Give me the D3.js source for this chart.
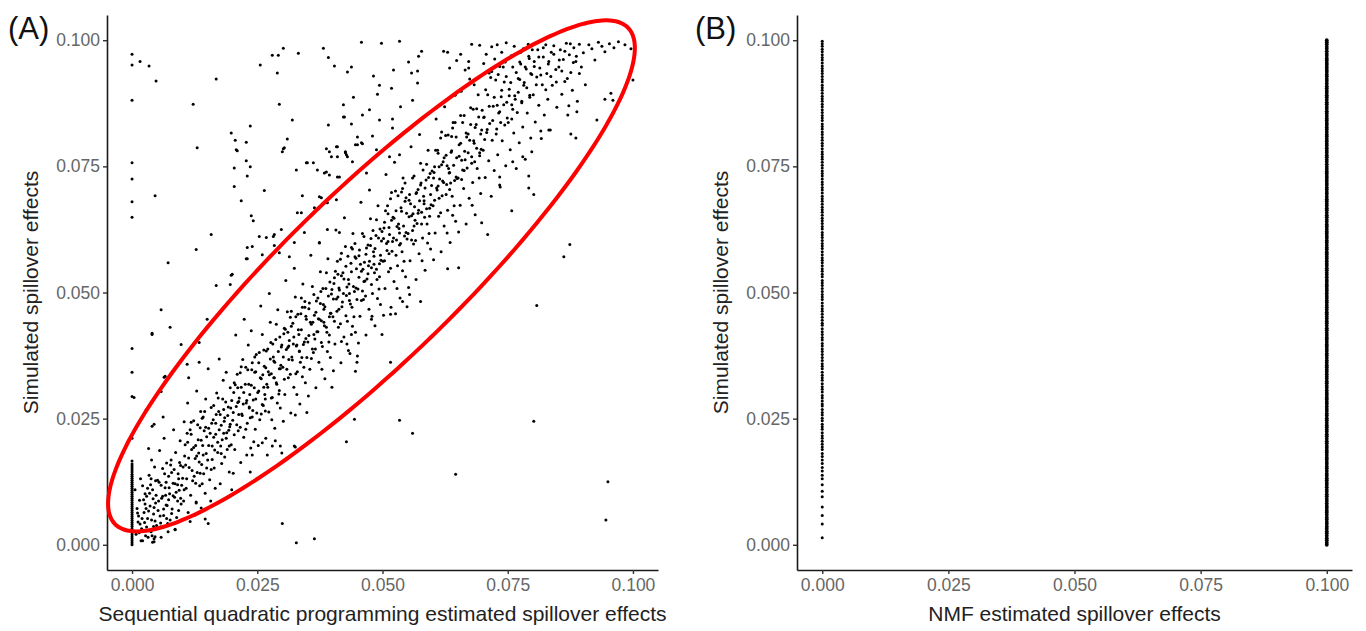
<!DOCTYPE html>
<html>
<head>
<meta charset="utf-8">
<script src="https://cdn.jsdelivr.net/npm/d3@7"></script>
<style>
    body { margin: 0; background: #fff; }
    svg { display: block; font-family: "Liberation Sans", Arial, Helvetica, sans-serif; }
</style>
</head>
<body>
<div id="chart"></div>
<script>
// Panel A: [SQP estimate, simulated] pairs in the main band
const sqpBand = [
    [.0008,.0021],[.0012,.0045],[.0015,.0088],[.0019,.0032],[.0021,.0117],[.0024,.0064],[.0027,.0018],[.0029,.0096],[.0031,.0052],[.0034,.0138],[.0036,.0077],[.0038,.0026],[.0041,.0109],[.0043,.0061],[.0045,.0154],[.0047,.0083],[.0049,.0038],[.0010,.0072],[.0017,.0131],[.0022,.0029],[.0026,.0101],[.0032,.0015],[.0037,.0119],[.0042,.0091],[.0046,.0047],[.0013,.0057],[.0028,.0072],[.0039,.0168],[.0006,.0109],[.0033,.0191],[.0044,.0012],[.0018,.0008],[.0025,.0044],[.0021,.0008],[.0041,.0005],[.0046,.0016],
    [.0052,.0068],[.0054,.0124],[.0057,.0035],[.0059,.0092],[.0061,.0151],[.0063,.0058],[.0066,.0113],[.0068,.0079],[.0071,.0042],[.0073,.0136],[.0075,.0101],[.0078,.0168],[.0080,.0071],[.0082,.0122],[.0085,.0094],[.0087,.0183],[.0089,.0054],[.0092,.0141],[.0094,.0108],[.0096,.0206],[.0098,.0081],[.0055,.0187],[.0064,.0211],[.0069,.0162],[.0076,.0049],[.0083,.0228],[.0091,.0119],[.0097,.0157],[.0058,.0015],[.0072,.0026],[.0086,.0031],[.0062,.0253],[.0079,.0143],[.0093,.0068],[.0067,.0098],
    [.0101,.0132],[.0103,.0087],[.0105,.0176],[.0108,.0112],[.0110,.0221],[.0112,.0064],[.0114,.0153],[.0117,.0098],[.0119,.0189],[.0121,.0127],[.0123,.0246],[.0126,.0171],[.0128,.0083],[.0130,.0143],[.0132,.0208],[.0135,.0117],[.0137,.0264],[.0139,.0159],[.0141,.0197],[.0144,.0226],[.0146,.0102],[.0148,.0181],[.0104,.0244],[.0111,.0281],[.0116,.0046],[.0124,.0136],[.0129,.0305],[.0133,.0182],[.0138,.0073],[.0143,.0141],[.0147,.0289],[.0107,.0158],[.0118,.0219],[.0127,.0197],[.0136,.0232],[.0142,.0253],[.0149,.0214],[.0113,.0331],[.0125,.0059],[.0140,.0121],
    [.0151,.0168],[.0153,.0231],[.0155,.0129],[.0158,.0272],[.0160,.0196],[.0162,.0248],[.0164,.0152],[.0167,.0219],[.0169,.0301],[.0171,.0183],[.0173,.0264],[.0176,.0121],[.0178,.0237],[.0180,.0208],[.0182,.0326],[.0185,.0174],[.0187,.0283],[.0189,.0222],[.0191,.0256],[.0194,.0144],[.0196,.0311],[.0198,.0198],[.0152,.0349],[.0157,.0087],[.0163,.0213],[.0168,.0258],[.0174,.0368],[.0179,.0161],[.0184,.0245],[.0188,.0342],[.0193,.0227],[.0197,.0271],[.0159,.0241],[.0166,.0112],[.0172,.0291],[.0177,.0196],[.0183,.0268],[.0190,.0189],[.0195,.0234],[.0199,.0109],
    [.0201,.0247],[.0203,.0302],[.0205,.0189],[.0208,.0274],[.0210,.0338],[.0212,.0226],[.0214,.0291],[.0217,.0163],[.0219,.0259],[.0221,.0367],[.0223,.0213],[.0226,.0318],[.0228,.0281],[.0230,.0241],[.0232,.0396],[.0235,.0298],[.0237,.0192],[.0239,.0347],[.0241,.0266],[.0244,.0311],[.0246,.0229],[.0248,.0377],[.0202,.0142],[.0207,.0416],[.0213,.0258],[.0218,.0312],[.0224,.0447],[.0229,.0178],[.0234,.0271],[.0238,.0424],[.0243,.0204],[.0247,.0289],[.0204,.0321],[.0211,.0282],[.0216,.0233],[.0222,.0279],[.0227,.0352],[.0233,.0318],[.0240,.0253],[.0245,.0342],[.0249,.0131],
    [.0251,.0302],[.0253,.0361],[.0255,.0248],[.0258,.0329],[.0260,.0417],[.0262,.0276],[.0264,.0354],[.0267,.0211],[.0269,.0318],[.0271,.0388],[.0273,.0263],[.0276,.0441],[.0278,.0339],[.0280,.0292],[.0282,.0372],[.0285,.0231],[.0287,.0407],[.0289,.0318],[.0291,.0466],[.0294,.0349],[.0296,.0271],[.0298,.0392],[.0252,.0197],[.0257,.0473],[.0263,.0312],[.0268,.0384],[.0274,.0498],[.0279,.0248],[.0284,.0331],[.0288,.0437],[.0293,.0299],[.0297,.0356],[.0254,.0381],[.0261,.0337],[.0266,.0289],[.0272,.0343],[.0277,.0401],[.0283,.0364],[.0290,.0281],[.0295,.0412],[.0299,.0182],[.0270,.0178],[.0286,.0206],
    [.0301,.0352],[.0303,.0418],[.0305,.0298],[.0308,.0387],[.0310,.0462],[.0312,.0331],[.0314,.0405],[.0317,.0261],[.0319,.0372],[.0321,.0439],[.0323,.0312],[.0326,.0491],[.0328,.0394],[.0330,.0343],[.0332,.0426],[.0335,.0279],[.0337,.0458],[.0339,.0371],[.0341,.0517],[.0344,.0402],[.0346,.0321],[.0348,.0447],[.0302,.0245],[.0307,.0524],[.0313,.0367],[.0318,.0433],[.0324,.0548],[.0329,.0298],[.0334,.0384],[.0338,.0489],[.0343,.0352],[.0347,.0409],[.0304,.0429],[.0311,.0391],[.0316,.0338],[.0322,.0398],[.0327,.0452],[.0333,.0417],[.0340,.0333],[.0345,.0471],[.0349,.0262],
    [.0351,.0402],[.0353,.0468],[.0355,.0348],[.0358,.0437],[.0360,.0512],[.0362,.0381],[.0364,.0455],[.0367,.0311],[.0369,.0422],[.0371,.0489],[.0373,.0362],[.0376,.0541],[.0378,.0444],[.0380,.0393],[.0382,.0476],[.0385,.0329],[.0387,.0508],[.0389,.0421],[.0391,.0567],[.0394,.0452],[.0396,.0371],[.0398,.0497],[.0352,.0295],[.0357,.0574],[.0363,.0417],[.0368,.0483],[.0374,.0598],[.0379,.0348],[.0384,.0434],[.0388,.0539],[.0393,.0402],[.0397,.0459],[.0354,.0479],[.0361,.0441],[.0366,.0388],[.0372,.0448],[.0377,.0502],[.0383,.0467],[.0390,.0383],[.0395,.0521],[.0399,.0312],
    [.0401,.0452],[.0403,.0518],[.0405,.0398],[.0408,.0487],[.0410,.0562],[.0412,.0431],[.0414,.0505],[.0417,.0361],[.0419,.0472],[.0421,.0539],[.0423,.0412],[.0426,.0591],[.0428,.0494],[.0430,.0443],[.0432,.0526],[.0435,.0379],[.0437,.0558],[.0439,.0471],[.0441,.0617],[.0444,.0502],[.0446,.0421],[.0448,.0547],[.0402,.0345],[.0407,.0624],[.0413,.0467],[.0418,.0533],[.0424,.0648],[.0429,.0398],[.0434,.0484],[.0438,.0589],[.0443,.0452],[.0447,.0509],[.0404,.0529],[.0411,.0491],[.0416,.0438],[.0422,.0498],[.0427,.0552],[.0433,.0517],[.0440,.0433],[.0445,.0571],[.0449,.0362],
    [.0451,.0507],[.0453,.0573],[.0455,.0453],[.0458,.0542],[.0460,.0617],[.0462,.0486],[.0464,.0560],[.0467,.0416],[.0469,.0527],[.0471,.0594],[.0473,.0467],[.0476,.0646],[.0478,.0549],[.0480,.0498],[.0482,.0581],[.0485,.0434],[.0487,.0613],[.0489,.0526],[.0491,.0672],[.0494,.0557],[.0496,.0476],[.0498,.0602],[.0452,.0400],[.0457,.0679],[.0463,.0522],[.0468,.0588],[.0474,.0703],[.0479,.0453],[.0484,.0539],[.0488,.0644],[.0493,.0507],[.0497,.0564],[.0454,.0584],[.0461,.0546],[.0466,.0493],[.0472,.0553],[.0477,.0607],[.0483,.0572],[.0490,.0488],[.0495,.0626],[.0499,.0417],
    [.0501,.0562],[.0503,.0628],[.0505,.0508],[.0508,.0597],[.0510,.0672],[.0512,.0541],[.0514,.0615],[.0517,.0471],[.0519,.0582],[.0521,.0649],[.0523,.0522],[.0526,.0701],[.0528,.0604],[.0530,.0553],[.0532,.0636],[.0535,.0489],[.0537,.0668],[.0539,.0581],[.0541,.0727],[.0544,.0612],[.0546,.0531],[.0548,.0657],[.0502,.0455],[.0507,.0734],[.0513,.0577],[.0518,.0643],[.0524,.0758],[.0529,.0508],[.0534,.0594],[.0538,.0699],[.0543,.0562],[.0547,.0619],[.0504,.0639],[.0511,.0601],[.0516,.0548],[.0522,.0608],[.0527,.0662],[.0533,.0627],[.0540,.0543],[.0545,.0681],[.0549,.0472],
    [.0551,.0617],[.0553,.0683],[.0555,.0563],[.0558,.0652],[.0560,.0727],[.0562,.0596],[.0564,.0670],[.0567,.0526],[.0569,.0637],[.0571,.0704],[.0573,.0577],[.0576,.0756],[.0578,.0659],[.0580,.0608],[.0582,.0691],[.0585,.0544],[.0587,.0723],[.0589,.0636],[.0591,.0782],[.0594,.0667],[.0596,.0586],[.0598,.0712],[.0552,.0510],[.0557,.0789],[.0563,.0632],[.0568,.0698],[.0574,.0813],[.0579,.0563],[.0584,.0649],[.0588,.0754],[.0593,.0617],[.0597,.0674],[.0554,.0694],[.0561,.0656],[.0566,.0603],[.0572,.0663],[.0577,.0717],[.0583,.0682],[.0590,.0598],[.0595,.0736],
    [.0601,.0672],[.0603,.0738],[.0605,.0618],[.0608,.0707],[.0610,.0782],[.0612,.0651],[.0614,.0725],[.0617,.0581],[.0619,.0692],[.0621,.0759],[.0623,.0632],[.0626,.0811],[.0628,.0714],[.0630,.0663],[.0632,.0746],[.0635,.0599],[.0637,.0778],[.0639,.0691],[.0641,.0837],[.0644,.0722],[.0646,.0641],[.0648,.0767],[.0602,.0565],[.0607,.0844],[.0613,.0687],[.0618,.0753],[.0624,.0868],[.0629,.0618],[.0634,.0704],[.0638,.0809],[.0643,.0672],[.0647,.0729],[.0604,.0749],[.0611,.0711],[.0616,.0658],[.0622,.0718],[.0627,.0772],[.0633,.0737],[.0640,.0653],[.0645,.0891],
    [.0651,.0727],[.0653,.0793],[.0655,.0673],[.0658,.0762],[.0660,.0837],[.0662,.0706],[.0664,.0780],[.0667,.0636],[.0669,.0747],[.0671,.0814],[.0673,.0687],[.0676,.0866],[.0678,.0769],[.0680,.0718],[.0682,.0801],[.0685,.0654],[.0687,.0833],[.0689,.0746],[.0691,.0892],[.0694,.0777],[.0696,.0696],[.0698,.0822],[.0652,.0620],[.0657,.0899],[.0663,.0742],[.0668,.0808],[.0674,.0923],[.0679,.0673],[.0684,.0759],[.0688,.0864],[.0693,.0727],[.0697,.0784],[.0656,.0851],[.0665,.0941],[.0672,.0958],[.0683,.0912],
    [.0701,.0782],[.0703,.0848],[.0705,.0728],[.0708,.0817],[.0710,.0892],[.0712,.0761],[.0714,.0835],[.0717,.0691],[.0719,.0802],[.0721,.0869],[.0723,.0742],[.0726,.0921],[.0728,.0824],[.0730,.0773],[.0732,.0856],[.0735,.0709],[.0737,.0888],[.0739,.0801],[.0741,.0947],[.0744,.0832],[.0746,.0751],[.0748,.0877],[.0702,.0954],[.0707,.0972],[.0713,.0935],[.0718,.0987],[.0724,.0963],[.0729,.0991],[.0734,.0948],[.0738,.0976],[.0743,.0917],[.0747,.0995],
    [.0751,.0837],[.0753,.0903],[.0755,.0783],[.0758,.0872],[.0760,.0947],[.0762,.0816],[.0764,.0890],[.0767,.0746],[.0769,.0857],[.0771,.0924],[.0773,.0797],[.0776,.0976],[.0778,.0879],[.0780,.0828],[.0782,.0911],[.0785,.0764],[.0787,.0943],[.0789,.0856],[.0791,.0992],[.0794,.0887],[.0796,.0806],[.0798,.0932],[.0757,.0969],[.0763,.0988],[.0774,.0957],[.0784,.0982],[.0793,.0964],
    [.0801,.0892],[.0803,.0958],[.0805,.0838],[.0808,.0927],[.0810,.0981],[.0812,.0871],[.0814,.0945],[.0817,.0805],[.0819,.0912],[.0821,.0967],[.0823,.0852],[.0826,.0991],[.0828,.0934],[.0830,.0883],[.0832,.0958],[.0835,.0822],[.0837,.0976],[.0839,.0911],[.0842,.0989],[.0846,.0942],[.0848,.0867],
    [.0852,.0947],[.0855,.0981],[.0858,.0893],[.0861,.0962],[.0864,.0918],[.0867,.0994],[.0870,.0852],[.0873,.0971],[.0876,.0936],[.0879,.0901],[.0882,.0985],[.0886,.0958],[.0889,.0879],[.0893,.0992],[.0897,.0947],[.0901,.0975],[.0905,.0912],[.0912,.0991],[.0918,.0983],[.0924,.0961],[.0931,.0996],[.0938,.0988],[.0944,.0977],[.0953,.0993],[.0962,.0985],[.0971,.0997],[.0984,.0991],[.1000,.0921],[.0996,.0983]
];

// Panel A: extra points in the densest core of the band
const sqpBandCore = [
    [.0011,.0063],[.0016,.0041],[.0023,.0089],[.0029,.0035],[.0035,.0102],[.0039,.0049],[.0044,.0074],[.0051,.0128],[.0056,.0057],[.0061,.0096],[.0065,.0141],[.0070,.0078],[.0074,.0113],[.0079,.0062],[.0084,.0149],[.0088,.0104],[.0093,.0131],[.0097,.0092],[.0014,.0024],[.0020,.0052],[.0026,.0081],[.0033,.0067],[.0038,.0131],[.0043,.0036],[.0048,.0098],[.0053,.0087],[.0058,.0118],[.0063,.0071],[.0068,.0124],[.0073,.0089],[.0077,.0158],[.0082,.0097],[.0086,.0121],[.0091,.0087],[.0095,.0163],[.0099,.0118],[.0031,.0112],[.0047,.0127],[.0057,.0043],[.0069,.0052],
    [.0102,.0154],[.0106,.0198],[.0109,.0131],[.0113,.0172],[.0116,.0228],[.0120,.0147],[.0123,.0193],[.0127,.0122],[.0131,.0238],[.0134,.0164],[.0138,.0207],[.0142,.0178],[.0145,.0264],[.0149,.0152],[.0153,.0197],[.0156,.0221],[.0160,.0169],[.0163,.0276],[.0167,.0241],[.0171,.0203],[.0174,.0228],[.0178,.0181],[.0181,.0289],[.0185,.0252],[.0188,.0211],[.0192,.0273],[.0196,.0239],[.0199,.0286],[.0104,.0109],[.0118,.0243],[.0129,.0176],[.0136,.0142],[.0147,.0233],[.0158,.0149],[.0165,.0188],[.0176,.0258],[.0183,.0221],[.0194,.0196],[.0111,.0203],[.0140,.0251],
    [.0202,.0262],[.0206,.0317],[.0209,.0238],[.0213,.0284],[.0216,.0341],[.0220,.0256],[.0223,.0302],[.0227,.0229],[.0231,.0347],[.0234,.0273],[.0238,.0316],[.0242,.0287],[.0245,.0372],[.0249,.0261],[.0253,.0305],[.0256,.0331],[.0260,.0278],[.0263,.0386],[.0267,.0351],[.0271,.0312],[.0274,.0337],[.0278,.0291],[.0281,.0398],[.0285,.0362],[.0288,.0321],[.0292,.0383],[.0296,.0349],[.0299,.0396],[.0204,.0218],[.0218,.0353],[.0229,.0286],[.0236,.0252],[.0247,.0343],[.0258,.0259],[.0265,.0298],[.0276,.0368],[.0283,.0331],[.0294,.0306],[.0211,.0311],[.0240,.0361],
    [.0302,.0372],[.0306,.0427],[.0309,.0348],[.0313,.0394],[.0316,.0451],[.0320,.0366],[.0323,.0412],[.0327,.0339],[.0331,.0457],[.0334,.0383],[.0338,.0426],[.0342,.0397],[.0345,.0482],[.0349,.0371],[.0353,.0415],[.0356,.0441],[.0360,.0388],[.0363,.0496],[.0367,.0461],[.0371,.0422],[.0374,.0447],[.0378,.0401],[.0381,.0508],[.0385,.0472],[.0388,.0431],[.0392,.0493],[.0396,.0459],[.0399,.0506],[.0304,.0328],[.0318,.0463],[.0329,.0396],[.0336,.0362],[.0347,.0453],[.0358,.0369],[.0365,.0408],[.0376,.0478],[.0383,.0441],[.0394,.0416],[.0311,.0421],[.0340,.0471],
    [.0402,.0487],[.0406,.0542],[.0409,.0463],[.0413,.0509],[.0416,.0566],[.0420,.0481],[.0423,.0527],[.0427,.0454],[.0431,.0572],[.0434,.0498],[.0438,.0541],[.0442,.0512],[.0445,.0597],[.0449,.0486],[.0453,.0530],[.0456,.0556],[.0460,.0503],[.0463,.0611],[.0467,.0576],[.0471,.0537],[.0474,.0562],[.0478,.0516],[.0481,.0623],[.0485,.0587],[.0488,.0546],[.0492,.0608],[.0496,.0574],[.0499,.0621],[.0404,.0443],[.0418,.0578],[.0429,.0511],[.0436,.0477],[.0447,.0568],[.0458,.0484],[.0465,.0523],[.0476,.0593],[.0483,.0556],[.0494,.0531],[.0411,.0536],[.0440,.0586],
    [.0502,.0607],[.0506,.0662],[.0509,.0583],[.0513,.0629],[.0516,.0686],[.0520,.0601],[.0523,.0647],[.0527,.0574],[.0531,.0692],[.0534,.0618],[.0538,.0661],[.0542,.0632],[.0545,.0717],[.0549,.0606],[.0553,.0650],[.0556,.0676],[.0560,.0623],[.0563,.0731],[.0567,.0696],[.0571,.0657],[.0574,.0682],[.0578,.0636],[.0581,.0743],[.0585,.0707],[.0588,.0666],[.0592,.0728],[.0596,.0694],[.0599,.0741],[.0504,.0563],[.0518,.0698],[.0529,.0631],[.0536,.0597],[.0547,.0688],[.0558,.0604],[.0565,.0643],[.0576,.0713],[.0583,.0676],[.0594,.0651],[.0511,.0656],[.0540,.0706],
    [.0602,.0727],[.0606,.0782],[.0609,.0703],[.0613,.0749],[.0616,.0806],[.0620,.0721],[.0623,.0767],[.0627,.0694],[.0631,.0812],[.0634,.0738],[.0638,.0781],[.0642,.0752],[.0645,.0837],[.0649,.0726],[.0653,.0770],[.0656,.0796],[.0660,.0743],[.0663,.0851],[.0667,.0816],[.0671,.0777],[.0674,.0802],[.0678,.0756],[.0681,.0863],[.0685,.0827],[.0688,.0786],[.0692,.0848],[.0696,.0814],[.0699,.0861],[.0604,.0683],[.0618,.0818],[.0629,.0751],[.0636,.0717],[.0647,.0808],[.0658,.0724],[.0665,.0763],[.0676,.0833],[.0683,.0796],[.0694,.0771],[.0611,.0776],[.0640,.0826],
    [.0702,.0847],[.0706,.0902],[.0709,.0823],[.0713,.0869],[.0716,.0926],[.0720,.0841],[.0723,.0887],[.0727,.0814],[.0731,.0932],[.0734,.0858],[.0738,.0901],[.0742,.0872],[.0745,.0957],[.0749,.0846],[.0753,.0890],[.0756,.0916],[.0760,.0863],[.0763,.0971],[.0767,.0936],[.0771,.0897],[.0774,.0922],[.0778,.0876],[.0781,.0983],[.0785,.0947],[.0788,.0906],[.0792,.0968],[.0796,.0934],[.0799,.0981],[.0704,.0803],[.0718,.0938],[.0729,.0871],[.0736,.0837],[.0747,.0928],[.0758,.0844],[.0765,.0883],[.0776,.0953],[.0783,.0916],[.0794,.0891],
    [.0803,.0948],[.0807,.0912],[.0812,.0967],[.0816,.0931],[.0821,.0985],[.0826,.0902],[.0831,.0953],[.0836,.0928],[.0842,.0972],[.0847,.0917],[.0853,.0961],[.0858,.0939],[.0864,.0978],[.0869,.0924],[.0875,.0993],[.0881,.0956],[.0887,.0968],[.0893,.0934]
];

// Panel A: scattered points away from the band
const sqpOutliers = [
    [.0016,.0958],[.0034,.0949],[.0048,.0919],[.0122,.0873],[.0130,.0787],[.0046,.0692],[.0072,.0559],[.0128,.0585],[.0158,.0615],[.0168,.0923],
    [.0198,.0816],[.0206,.0802],[.0228,.0798],[.0210,.0781],[.0236,.0830],[.0228,.0761],[.0236,.0749],[.0204,.0747],[.0230,.0731],[.0204,.0710],
    [.0264,.0702],[.0218,.0682],[.0238,.0652],[.0242,.0642],[.0256,.0951],[.0280,.0970],[.0292,.0970],[.0302,.0984],[.0290,.0935],[.0294,.0873],
    [.0332,.0974],[.0382,.0984],[.0392,.0966],[.0404,.0949],[.0430,.0937],[.0422,.0872],[.0422,.0848],[.0320,.0842],[.0392,.0832],[.0310,.0804],
    [.0302,.0785],[.0388,.0785],[.0408,.0789],[.0398,.0769],[.0410,.0769],[.0328,.0743],[.0348,.0757],[.0362,.0757],[.0370,.0743],[.0384,.0737],
    [.0394,.0733],[.0410,.0729],[.0340,.0692],[.0364,.0668],[.0378,.0688],[.0390,.0678],[.0408,.0684],[.0330,.0658],[.0298,.0625],[.0284,.0615],
    [.0268,.0609],[.0254,.0611],[.0240,.0591],[.0230,.0589],[.0230,.0567],[.0198,.0534],[.0196,.0516],[.0168,.0514],[.0260,.0575],[.0294,.0579],
    [.0314,.0571],[.0324,.0599],[.0344,.0619],[.0390,.0625],[.0374,.0599],[.0414,.0619],[.0208,.0783],[.0300,.0779],[.0304,.0787],[.0350,.0757],
    [.0388,.0739],[.0338,.0658],[.0374,.0690],[.0394,.0779],[.0410,.0789],[.0426,.0779],[.0428,.0773],[.0450,.0793],[.0460,.0795],[.0488,.0783],
    [.0282,.0611],[.0284,.0593],[.0228,.0567],[.0200,.0536],
    [.0458,.0996],[.0498,.0994],[.0534,.0998],[.0438,.0947],[.0482,.0929],[.0522,.0941],[.0552,.0957],[.0572,.0968],[.0578,.0978],[.0558,.0935],
    [.0570,.0939],[.0622,.0978],[.0630,.0976],[.0648,.0960],[.0656,.0972],[.0678,.0992],[.0694,.0990],[.0634,.0945],[.0672,.0945],[.0494,.0911],
    [.0518,.0905],[.0490,.0893],[.0442,.0887],[.0474,.0862],[.0460,.0852],[.0494,.0842],[.0520,.0844],[.0536,.0868],[.0560,.0881],[.0570,.0915],
    [.0424,.0848],[.0438,.0834],[.0520,.0826],[.0480,.0810],[.0450,.0808],[.0446,.0793],[.0458,.0797],[.0426,.0777],[.0430,.0769],[.0414,.0729],
    [.0440,.0759],[.0468,.0737],[.0514,.0769],[.0534,.0773],
    [.0058,.0466],[.0076,.0431],[.0040,.0419],[.0098,.0397],[.0150,.0447],[.0110,.0358],[.0134,.0362],[.0064,.0332],[.0044,.0239],[.0028,.0267],
    [.0040,.0417],[.0066,.0334],[.0058,.0304],[.0040,.0235],[.0134,.0401],[.0004,.0292],
    [.0808,.0474],[.0516,.0362],[.0446,.0344],[.0444,.0249],[.0534,.0247],[.0560,.0221],[.0428,.0204],[.0646,.0140],[.0802,.0245],[.0950,.0125],
    [.0946,.0049],[.0576,.0482],[.0554,.0496],[.0540,.0482],[.0526,.0458],[.0516,.0457],[.0478,.0447],[.0450,.0374],[.0432,.0385],[.0438,.0417],
    [.0418,.0403],[.0874,.0595],[.0862,.0571],[.0802,.0694],[.0792,.0707],[.0792,.0731],[.0758,.0662],[.0798,.0779],[.0876,.0814],[.0886,.0806],
    [.0928,.0842],[.0960,.0881],[.0944,.0883],[.0956,.0895],[.0888,.0858],[.0872,.0870],[.0652,.0549],[.0630,.0547],[.0698,.0638],[.0710,.0615],
    [.0734,.0729],[.0734,.0713],[.0760,.0759],[.0780,.0769],[.0816,.0820],[.0832,.0822],
    [.0300,.0042],[.0328,.0004],[.0364,.0012],[.0324,.0196],[.0296,.0196],[.0326,.0194],[.0240,.0178],[.0236,.0144],[.0146,.0051],[.0152,.0042],
    [.0128,.0085],[.0086,.0030],[.0040,.0018],[.0044,.0006],[.0326,.0257],[.0280,.0196],[.0260,.0202],[.0266,.0265]
];

// Panel A: points sitting on SQP estimate = 0
const sqpZeroColumn = [
    0,.0004,.0008,.0012,.0016,.0020,.0024,.0028,.0032,.0036,.0040,.0044,.0048,.0052,.0056,.0060,.0064,.0068,.0072,.0076,
    .0080,.0084,.0088,.0092,.0096,.0100,.0104,.0108,.0112,.0116,.0120,.0124,.0128,.0132,.0136,.0140,.0144,.0148,.0152,.0156,
    .0160,.0166,.0211,.0294,.0342,.0389,.0649,.0680,.0725,.0757,.0881,.0951,.0972
];

// Panel B: simulated values where NMF estimate = 0
const nmfZeroColumn = [
    .0014,.0041,.0058,.0075,.0095,.0106,.0119,.0131,.0138,.0146,.0153,.0161,.0168,.0175,.0181,.0189,.0194,.0199,.0205,.0211,
    .0216,.0222,.0229,.0234,.0239,.0246,.0251,.0257,.0262,.0268,.0275,.0279,.0285,.0291,.0296,.0303,.0308,.0313,.0319,.0326,
    .0331,.0336,.0342,.0349,.0354,.0359,.0365,.0371,.0377,.0383,.0388,.0394,.0399,.0406,.0411,.0417,.0422,.0428,.0435,.0439,
    .0445,.0451,.0457,.0463,.0468,.0473,.0479,.0486,.0491,.0496,.0502,.0508,.0514,.0519,.0524,.0531,.0536,.0542,.0547,.0553,
    .0559,.0564,.0569,.0575,.0581,.0587,.0592,.0597,.0603,.0609,.0614,.0619,.0626,.0631,.0637,.0642,.0647,.0653,.0659,.0664,
    .0669,.0675,.0681,.0686,.0691,.0697,.0703,.0708,.0714,.0719,.0725,.0731,.0736,.0741,.0747,.0752,.0758,.0764,.0769,.0774,
    .0779,.0785,.0791,.0796,.0802,.0807,.0813,.0818,.0824,.0829,.0834,.0841,.0846,.0851,.0857,.0862,.0868,.0873,.0879,.0884,
    .0889,.0895,.0901,.0906,.0911,.0917,.0922,.0928,.0934,.0939,.0944,.0949,.0955,.0961,.0966,.0971,.0977,.0982,.0988,.0993,.0998
];

// Panel B: simulated values where NMF estimate = 0.1
const nmfTenthColumn = [
    0,.0004,.0009,.0013,.0018,.0023,.0027,.0032,.0036,.0041,.0045,.0050,.0054,.0059,.0064,.0068,.0073,.0077,.0082,.0087,
    .0091,.0096,.0100,.0105,.0109,.0114,.0119,.0123,.0128,.0132,.0137,.0141,.0146,.0151,.0155,.0160,.0164,.0169,.0173,.0178,
    .0183,.0187,.0192,.0196,.0201,.0205,.0210,.0215,.0219,.0224,.0228,.0233,.0237,.0242,.0247,.0251,.0256,.0260,.0265,.0269,
    .0274,.0279,.0283,.0288,.0292,.0297,.0301,.0306,.0311,.0315,.0320,.0324,.0329,.0333,.0338,.0343,.0347,.0352,.0356,.0361,
    .0365,.0370,.0375,.0379,.0384,.0388,.0393,.0397,.0402,.0407,.0411,.0416,.0420,.0425,.0429,.0434,.0439,.0443,.0448,.0452,
    .0457,.0461,.0466,.0471,.0475,.0480,.0484,.0489,.0493,.0498,.0503,.0507,.0512,.0516,.0521,.0525,.0530,.0535,.0539,.0544,
    .0548,.0553,.0557,.0562,.0567,.0571,.0576,.0580,.0585,.0589,.0594,.0599,.0603,.0608,.0612,.0617,.0621,.0626,.0631,.0635,
    .0640,.0644,.0649,.0653,.0658,.0663,.0667,.0672,.0676,.0681,.0685,.0690,.0695,.0699,.0704,.0708,.0713,.0717,.0722,.0727,
    .0731,.0736,.0740,.0745,.0749,.0754,.0759,.0763,.0768,.0772,.0777,.0781,.0786,.0791,.0795,.0800,.0804,.0809,.0813,.0818,
    .0823,.0827,.0832,.0836,.0841,.0845,.0850,.0855,.0859,.0864,.0868,.0873,.0877,.0882,.0887,.0891,.0896,.0900,.0905,.0909,
    .0914,.0919,.0923,.0928,.0932,.0937,.0941,.0946,.0951,.0955,.0960,.0964,.0969,.0973,.0978,.0983,.0987,.0992,.0996,.1000
];

const tickValues = [0, 0.025, 0.05, 0.075, 0.1];
const axisDomain = [-0.005, 0.105];

// Red highlight ellipse on panel A (data units)
const highlightEllipse = { cx: 0.0478, cy: 0.0533, rx: 0.0710, ry: 0.0170, angle: 43.8 };

const width = 1366;
const height = 631;

const svg = d3.select('#chart').append('svg')
    .attr('width', width)
    .attr('height', height);

const panels = [
    {
        tag: '(A)', tagX: 8, left: 107, right: 658,
        xTitle: 'Sequential quadratic programming estimated spillover effects'
    },
    {
        tag: '(B)', tagX: 695, left: 797, right: 1352,
        xTitle: 'NMF estimated spillover effects'
    }
];

const plotTop = 15;
const plotBottom = 570;

function drawPanel(p) {
    const x = d3.scaleLinear().domain(axisDomain).range([p.left, p.right]);
    const y = d3.scaleLinear().domain(axisDomain).range([plotBottom, plotTop]);
    const g = svg.append('g');

    const fmt = d3.format('.3f');

    const yAxis = g.append('g')
        .attr('transform', `translate(${p.left},0)`)
        .call(d3.axisLeft(y).tickValues(tickValues).tickFormat(fmt).tickSize(4).tickSizeOuter(0).tickPadding(3));

    const xAxis = g.append('g')
        .attr('transform', `translate(0,${plotBottom})`)
        .call(d3.axisBottom(x).tickValues(tickValues).tickFormat(fmt).tickSize(4).tickSizeOuter(0).tickPadding(5));

    [yAxis, xAxis].forEach(ax => {
        ax.select('.domain').attr('stroke', '#1a1a1a').attr('stroke-width', 1.6);
        ax.selectAll('.tick line').attr('stroke', '#333').attr('stroke-width', 1.4);
        ax.selectAll('.tick text')
            .attr('fill', '#666')
            .attr('font-size', 17.5)
            .attr('font-family', '"Liberation Sans", Arial, sans-serif');
    });

    // Panel tag
    g.append('text')
        .attr('x', p.tagX)
        .attr('y', 39)
        .attr('font-size', 31)
        .attr('fill', '#111')
        .text(p.tag);

    // Axis titles
    g.append('text')
        .attr('x', (p.left + p.right) / 2)
        .attr('y', 621)
        .attr('text-anchor', 'middle')
        .attr('font-size', 21)
        .attr('fill', '#222')
        .text(p.xTitle);

    g.append('text')
        .attr('transform', `translate(${p.left - 69},${(plotTop + plotBottom) / 2}) rotate(-90)`)
        .attr('text-anchor', 'middle')
        .attr('font-size', 21)
        .attr('fill', '#222')
        .text('Simulated spillover effects');

    return { g, x, y };
}

const panelA = drawPanel(panels[0]);
const panelB = drawPanel(panels[1]);

// Panel A dots
const aPoints = sqpBand.concat(sqpBandCore).concat(sqpOutliers).concat(sqpZeroColumn.map(v => [0, v]));
panelA.g.append('g')
    .selectAll('circle')
    .data(aPoints)
    .enter()
    .append('circle')
    .attr('cx', d => panelA.x(d[0]))
    .attr('cy', d => panelA.y(d[1]))
    .attr('r', 1.5)
    .attr('fill', '#000');

// Ellipse outline, traced in data space then scaled
const steps = d3.range(0, 361, 2);
const rad = highlightEllipse.angle * Math.PI / 180;
const ellipsePts = steps.map(deg => {
    const t = deg * Math.PI / 180;
    const ex = highlightEllipse.rx * Math.cos(t);
    const ey = highlightEllipse.ry * Math.sin(t);
    return [
        highlightEllipse.cx + ex * Math.cos(rad) - ey * Math.sin(rad),
        highlightEllipse.cy + ex * Math.sin(rad) + ey * Math.cos(rad)
    ];
});

panelA.g.append('path')
    .datum(ellipsePts)
    .attr('d', d3.line().x(d => panelA.x(d[0])).y(d => panelA.y(d[1])).curve(d3.curveCardinalClosed))
    .attr('fill', 'none')
    .attr('stroke', '#ff0000')
    .attr('stroke-width', 4);

// Panel B dots: two columns
const bPoints = nmfZeroColumn.map(v => [0, v, 1.5]).concat(nmfTenthColumn.map(v => [0.1, v, 1.9]));
panelB.g.append('g')
    .selectAll('circle')
    .data(bPoints)
    .enter()
    .append('circle')
    .attr('cx', d => panelB.x(d[0]))
    .attr('cy', d => panelB.y(d[1]))
    .attr('r', d => d[2])
    .attr('fill', '#000');
</script>
</body>
</html>
